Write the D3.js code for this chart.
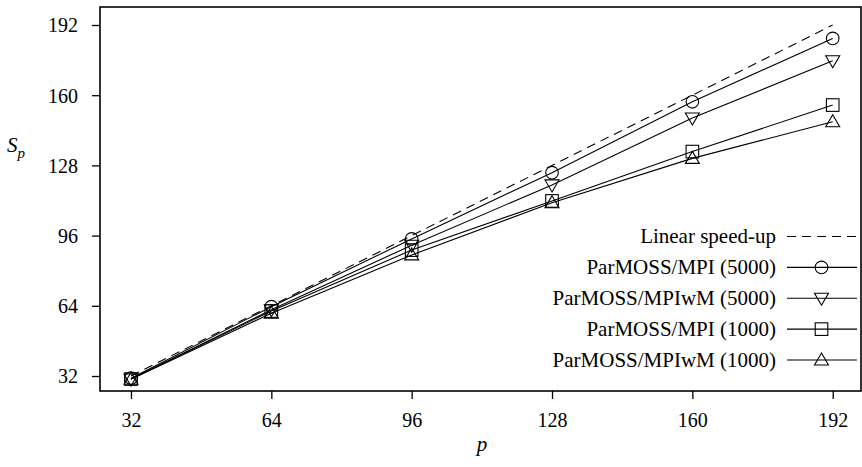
<!DOCTYPE html>
<html>
<head>
<meta charset="utf-8">
<script src="https://cdn.jsdelivr.net/npm/d3@7/dist/d3.min.js"></script>
<style>
  html, body { margin: 0; padding: 0; background: #fff; }
  svg { display: block; font-family: "Liberation Serif", "Times New Roman", serif; }
</style>
</head>
<body>
<svg id="chart" width="862" height="467"></svg>
<script>
// processors
const procs = [32, 64, 96, 128, 160, 192];
const xTicks = [32, 64, 96, 128, 160, 192];
const yTicks = [32, 64, 96, 128, 160, 192];

// speed-up per series
const linear = [32, 64, 96, 128, 160, 192];
const mpi5000 = [31, 63.6, 94.5, 124.7, 157, 185.9];
const mpiwm5000 = [30.6, 62.2, 91.6, 119.1, 149.6, 175.7];
const mpi1000 = [30.6, 61.6, 89.4, 111.8, 134.3, 155.5];
const mpiwm1000 = [30.5, 60.6, 87.2, 111, 131.2, 147.9];

const seriesNames = [
    "Linear speed-up",
    "ParMOSS/MPI (5000)",
    "ParMOSS/MPIwM (5000)",
    "ParMOSS/MPI (1000)",
    "ParMOSS/MPIwM (1000)"
];
const seriesMarks = ["none", "circle", "tridown", "square", "triup"];
const seriesData = [linear, mpi5000, mpiwm5000, mpi1000, mpiwm1000];

const svg = d3.select("#chart");
const frame = { left: 100, right: 861, top: 7, bottom: 391 };

const x = d3.scaleLinear().domain([32, 192]).range([131, 832.7]);
const y = d3.scaleLinear().domain([32, 192]).range([376, 25]);

// frame
svg.append("rect")
    .attr("x", frame.left).attr("y", frame.top)
    .attr("width", frame.right - frame.left).attr("height", frame.bottom - frame.top)
    .attr("fill", "none").attr("stroke", "#000").attr("stroke-width", 1.6);

const xAxis = svg.append("g")
    .attr("transform", `translate(0,${frame.bottom})`)
    .call(d3.axisBottom(x).tickValues(xTicks).tickSize(8).tickPadding(14).tickSizeOuter(0));
const yAxis = svg.append("g")
    .attr("transform", `translate(${frame.left},0)`)
    .call(d3.axisLeft(y).tickValues(yTicks).tickSize(8).tickPadding(14).tickSizeOuter(0));

[xAxis, yAxis].forEach(g => {
    g.select(".domain").remove();
    g.selectAll(".tick line").attr("stroke", "#000").attr("stroke-width", 1.3);
    g.selectAll(".tick text")
        .attr("fill", "#000")
        .style("font-family", "Liberation Serif")
        .style("font-size", "20px");
});
xAxis.selectAll(".tick text").attr("dy", "0.71em");
yAxis.selectAll(".tick text").attr("dy", "0.34em");

// axis titles
svg.append("text")
    .attr("x", 482).attr("y", 451)
    .attr("text-anchor", "middle")
    .style("font-size", "21px").style("font-style", "italic")
    .text("p");

const yl = svg.append("text")
    .attr("x", 7).attr("y", 152)
    .style("font-size", "21px").style("font-style", "italic");
yl.append("tspan").text("S");
yl.append("tspan").attr("dy", 6).style("font-size", "15px").text("p");

function drawMarker(g, type, cx, cy) {
    const st = s => s.attr("fill", "none").attr("stroke", "#000").attr("stroke-width", 1.1);
    if (type === "circle") {
        st(g.append("circle").attr("cx", cx).attr("cy", cy).attr("r", 6.3));
    } else if (type === "square") {
        st(g.append("rect").attr("x", cx - 6.3).attr("y", cy - 6.3).attr("width", 12.6).attr("height", 12.6));
    } else if (type === "triup") {
        st(g.append("path").attr("d", `M${cx},${cy - 7}L${cx + 7},${cy + 5}L${cx - 7},${cy + 5}Z`));
    } else if (type === "tridown") {
        st(g.append("path").attr("d", `M${cx},${cy + 7}L${cx + 7},${cy - 5}L${cx - 7},${cy - 5}Z`));
    }
}

const line = d3.line().x((d, i) => x(procs[i])).y(d => y(d));

seriesData.forEach((vals, k) => {
    const g = svg.append("g");
    g.append("path")
        .attr("d", line(vals))
        .attr("fill", "none")
        .attr("stroke", "#000")
        .attr("stroke-width", 1.1)
        .attr("stroke-dasharray", k === 0 ? "9,6" : null);
    if (seriesMarks[k] !== "none") {
        vals.forEach((v, i) => drawMarker(g, seriesMarks[k], x(procs[i]), y(v)));
    }
});

// legend
const legY = d3.scalePoint().domain(seriesNames).range([236.5, 360]);
seriesNames.forEach((name, k) => {
    const ly = legY(name);
    svg.append("text")
        .attr("x", 776).attr("y", ly).attr("dy", "0.33em")
        .attr("text-anchor", "end")
        .style("font-size", "21px")
        .text(name);
    svg.append("line")
        .attr("x1", 787).attr("x2", 857).attr("y1", ly).attr("y2", ly)
        .attr("stroke", "#000").attr("stroke-width", 1.1)
        .attr("stroke-dasharray", k === 0 ? "9,6" : null);
    if (seriesMarks[k] !== "none") drawMarker(svg, seriesMarks[k], 821.5, ly);
});
</script>
</body>
</html>
